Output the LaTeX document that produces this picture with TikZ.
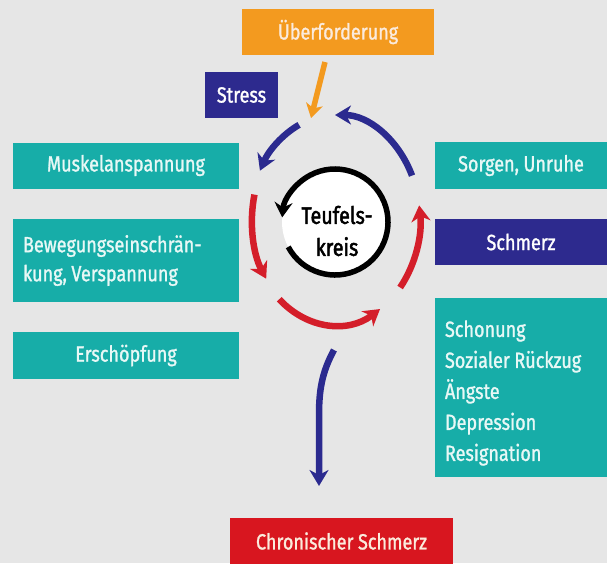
\documentclass[tikz,border=0pt]{standalone}
\usepackage{fontspec}
\setmainfont{Fira Sans}[FakeStretch=0.82, FakeBold=1.2]
\newfontfamily\centerfont{Fira Sans}[FakeStretch=0.82, FakeBold=2]
\usetikzlibrary{arrows.meta}
\newcommand{\tsp}{\spaceskip=4.5pt\relax}
\definecolor{bg}{HTML}{E6E6E6}
\definecolor{teal}{HTML}{17ADA8}
\definecolor{navy}{HTML}{2D2A8E}
\definecolor{orng}{HTML}{F39A1F}
\definecolor{redbox}{HTML}{D8161F}
\definecolor{redarc}{HTML}{D41E2A}
\definecolor{bluearc}{HTML}{2B2A8F}
\definecolor{lighttext}{HTML}{E8F8F6}
\definecolor{creamtext}{HTML}{FBEBDD}
\tikzset{
  box/.style={rectangle, inner sep=0pt, text=lighttext,
    font=\fontsize{22}{29}\selectfont},
  tealbox/.style={box, fill=teal},
  navybox/.style={box, fill=navy},
  tip/.style={-{Stealth[length=16pt,width=19pt,inset=5pt]}},
  bluecyc/.style={draw=bluearc, line width=6.5pt, tip},
  redcyc/.style={draw=redarc, line width=6.5pt, tip},
}
\begin{document}
\begin{tikzpicture}[x=1pt,y=-1pt]
\fill[bg] (0,0) rectangle (607,563);
\useasboundingbox (0,0) rectangle (607,563);

% boxes
\node[box, fill=orng, text=creamtext, minimum width=192pt, minimum height=46pt] (ueber) at (338,32) {Überforderung};
\node[navybox, text=white, minimum width=73pt, minimum height=46pt] (stress) at (241.5,95) {Stress};
\node[tealbox, minimum width=226pt, minimum height=46pt] (muskel) at (126,165.5) {Muskelanspannung};
\node[tealbox, minimum width=226pt, minimum height=83pt, align=left, text width=206pt] (beweg) at (126,260.5) {\tsp Bewegungseinschrän-\\\tsp kung, Verspannung};
\node[tealbox, minimum width=226pt, minimum height=47pt] (ersch) at (126,355.5) {Erschöpfung};
\node[tealbox, minimum width=173pt, minimum height=47pt] (sorgen) at (521,165.5) {\tsp Sorgen, Unruhe};
\node[navybox, text=white, minimum width=173pt, minimum height=46pt] (schmerz) at (521,242) {Schmerz};
\node[tealbox, minimum width=173pt, minimum height=179pt] (liste) at (521,387.5) {};
\node[box, fill=none, align=left, text width=152pt,
  font=\fontsize{22}{31}\selectfont] (listtext) at (521,393) {Schonung\\\tsp Sozialer Rückzug\\Ängste\\Depression\\Resignation};
\node[box, fill=redbox, text=creamtext, minimum width=223pt, minimum height=46pt] (chron) at (341.5,541) {\tsp Chronischer Schmerz};

% inner circle
\coordinate (C) at (335,222);
\fill[white] (C) circle[radius=53];
\draw[line width=5.5pt, black, -{Stealth[length=15pt,width=18pt,inset=5pt]}]
  ([shift={(-208:53)}]C) arc[start angle=-208, end angle=-535, radius=53];
\node[font=\centerfont\fontsize{24}{32}\selectfont, align=center, text=black] (teufel) at (337,231) {Teufels-\\kreis};

% outer cycle
\coordinate (O) at (335,220);
\draw[bluecyc] ([shift={(-25:85 and 105)}]O) arc[start angle=-25, end angle=-90, x radius=85, y radius=105];
\draw[bluecyc] ([shift={(-115:85 and 105)}]O) arc[start angle=-115, end angle=-152, x radius=85, y radius=105];
\draw[redcyc] ([shift={(-166:83 and 105)}]O) arc[start angle=-166, end angle=-214, x radius=83, y radius=105];
\draw[redcyc] ([shift={(-229:85 and 105)}]O) arc[start angle=-229, end angle=-302, x radius=85, y radius=105];
\draw[redcyc] ([shift={(-320:85 and 105)}]O) arc[start angle=-320, end angle=-368, x radius=85, y radius=105];

% orange arrow from Überforderung
\coordinate (ostart) at (325,62);
\coordinate (oend) at (311,118);
\draw[orng, line width=5.5pt, -{Stealth[length=14pt,width=17pt,inset=4pt]}] (ostart) -- (oend);

% down arrow to chronic pain
\coordinate (dstart) at (334,350);
\coordinate (dend) at (319,486);
\draw[bluearc, line width=6.5pt, -{Stealth[length=16pt,width=19pt,inset=5pt]}]
  (dstart) .. controls (322,372) and (319,390) .. (319,415) -- (dend);
\end{tikzpicture}
\end{document}
